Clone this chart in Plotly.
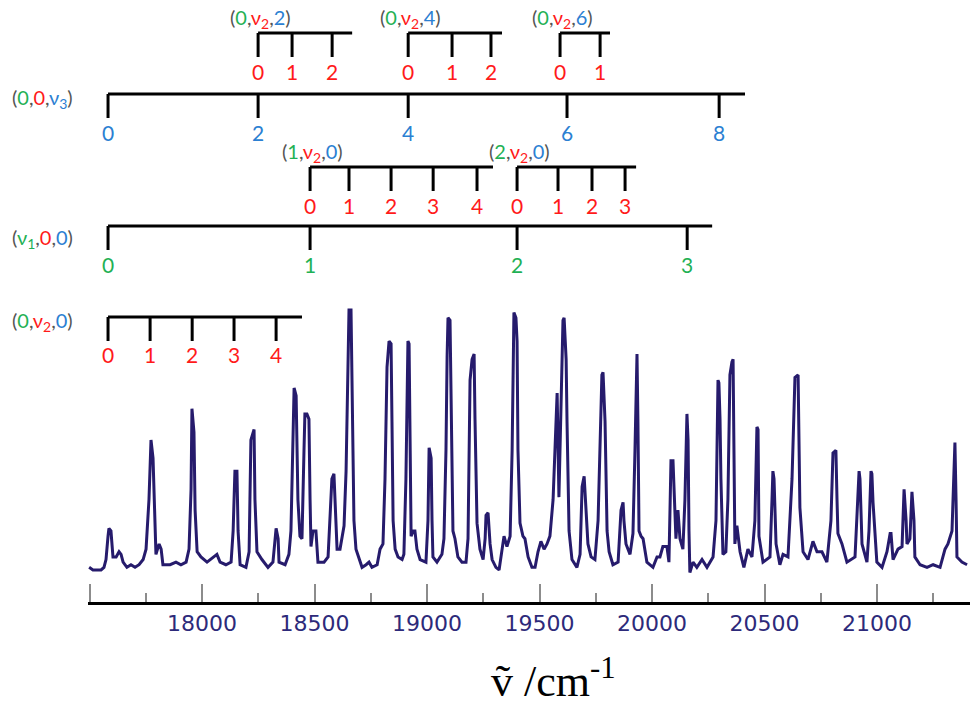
import plotly.graph_objects as go

# ---------------------------------------------------------------------------
# Spectrum: wavenumber (cm^-1) and relative intensity (% of strongest band)
# ---------------------------------------------------------------------------
wavenumber = [
    17498, 17515, 17533, 17551, 17564, 17573, 17582, 17586, 17595, 17604,
    17618, 17631, 17640, 17649, 17666, 17684, 17702, 17720, 17738, 17751,
    17764, 17773, 17782, 17791, 17795, 17809, 17818, 17826, 17858, 17884,
    17906, 17929, 17942, 17951, 17955, 17964, 17969, 17978, 17995, 18022,
    18053, 18066, 18080, 18106, 18129, 18138, 18146, 18155, 18160, 18169,
    18195, 18209, 18217, 18231, 18235, 18244, 18266, 18293, 18315, 18324,
    18329, 18338, 18342, 18369, 18386, 18395, 18404, 18409, 18418, 18426,
    18435, 18444, 18453, 18457, 18466, 18475, 18480, 18484, 18493, 18506,
    18515, 18542, 18560, 18573, 18577, 18586, 18595, 18600, 18613, 18631,
    18640, 18649, 18653, 18662, 18666, 18675, 18684, 18698, 18711, 18729,
    18742, 18755, 18778, 18791, 18804, 18813, 18822, 18831, 18840, 18844,
    18849, 18858, 18871, 18889, 18897, 18906, 18911, 18915, 18920, 18924,
    18929, 18938, 18946, 18955, 18969, 18995, 19004, 19009, 19018, 19022,
    19026, 19044, 19066, 19075, 19084, 19089, 19093, 19102, 19106, 19115,
    19124, 19137, 19155, 19173, 19182, 19191, 19200, 19209, 19213, 19222,
    19235, 19249, 19258, 19262, 19271, 19280, 19289, 19306, 19320, 19333,
    19342, 19355, 19369, 19378, 19386, 19395, 19400, 19404, 19413, 19426,
    19435, 19449, 19466, 19480, 19493, 19506, 19520, 19533, 19546, 19560,
    19569, 19578, 19586, 19595, 19604, 19609, 19618, 19622, 19631, 19644,
    19666, 19680, 19689, 19698, 19706, 19715, 19729, 19746, 19760, 19769,
    19777, 19782, 19791, 19800, 19809, 19826, 19849, 19862, 19871, 19875,
    19884, 19902, 19915, 19924, 19929, 19933, 19937, 19942, 19951, 19960,
    19977, 20004, 20022, 20035, 20048, 20066, 20075, 20080, 20084, 20093,
    20102, 20106, 20115, 20124, 20137, 20146, 20155, 20160, 20164, 20168,
    20182, 20199, 20222, 20244, 20271, 20284, 20293, 20297, 20302, 20306,
    20315, 20328, 20337, 20346, 20355, 20360, 20368, 20377, 20391, 20408,
    20426, 20444, 20457, 20466, 20471, 20475, 20493, 20524, 20533, 20537,
    20542, 20551, 20568, 20582, 20604, 20622, 20635, 20649, 20657, 20671,
    20693, 20715, 20733, 20755, 20777, 20795, 20804, 20817, 20822, 20826,
    20844, 20866, 20902, 20911, 20920, 20924, 20933, 20955, 20964, 20973,
    20977, 20982, 20991, 20999, 21022, 21044, 21058, 21062, 21071, 21093,
    21111, 21115, 21120, 21129, 21133, 21146, 21155, 21164, 21168, 21191,
    21222, 21249, 21280, 21302, 21315, 21333, 21342, 21346, 21351, 21355,
    21377, 21400,
]
intensity = [
    1, 0, 0, 0, 1, 4, 13, 16, 15, 5,
    5, 7, 6, 3, 1, 2, 1, 2, 4, 8,
    27, 50, 43, 15, 6, 10, 8, 2, 2, 3,
    2, 3, 8, 31, 62, 53, 23, 7, 5, 3,
    5, 6, 3, 2, 3, 15, 38, 38, 15, 2,
    1, 7, 50, 54, 27, 7, 4, 1, 3, 12,
    16, 12, 3, 2, 6, 15, 58, 70, 67, 27,
    13, 12, 46, 60, 60, 58, 27, 9, 15, 15,
    3, 3, 5, 27, 35, 37, 19, 8, 8, 17,
    38, 92, 100, 100, 73, 19, 8, 4, 1, 2,
    3, 1, 2, 8, 10, 35, 78, 88, 87, 57,
    19, 8, 5, 4, 6, 35, 81, 88, 87, 38,
    13, 15, 15, 8, 4, 3, 19, 47, 43, 19,
    5, 3, 6, 12, 46, 82, 97, 96, 65, 15,
    12, 5, 3, 3, 12, 73, 81, 83, 58, 18,
    8, 4, 12, 21, 22, 10, 4, 1, 0, 7,
    13, 9, 13, 46, 99, 97, 88, 46, 18, 13,
    12, 5, 1, 1, 7, 11, 8, 10, 13, 27,
    50, 68, 28, 65, 96, 97, 81, 57, 15, 4,
    1, 6, 32, 36, 23, 10, 5, 4, 19, 50,
    75, 76, 57, 15, 7, 2, 3, 23, 26, 19,
    10, 6, 14, 46, 73, 83, 58, 15, 13, 12,
    3, 1, 5, 5, 9, 9, 3, 19, 42, 42,
    19, 12, 23, 12, 8, 27, 60, 50, 15, -1,
    3, 1, 4, 1, 5, 19, 73, 72, 58, 35,
    6, 7, 27, 75, 80, 81, 10, 17, 7, 1,
    8, 5, 19, 55, 54, 13, 3, 5, 27, 38,
    35, 10, 2, 6, 5, 35, 74, 75, 24, 7,
    4, 11, 7, 7, 3, 19, 45, 46, 27, 14,
    10, 3, 5, 19, 38, 35, 10, 3, 15, 38,
    37, 26, 12, 3, 1, 7, 14, 14, 4, 8,
    9, 19, 31, 19, 10, 12, 30, 19, 5, 2,
    1, 2, 1, 8, 10, 15, 38, 49, 27, 5,
    3, 2,
]

# ---------------------------------------------------------------------------
# Vibrational progressions: band origins (cm^-1) and quantum numbers
# ---------------------------------------------------------------------------
v2_000_pos = [17582, 17769, 17956, 18142, 18329]   # (0,v2,0)
v2_000_num = [0, 1, 2, 3, 4]
v2_000_end = 18444

v1_pos = [17582, 18480, 19400, 20156]              # (v1,0,0)
v1_num = [0, 1, 2, 3]
v1_end = 20267

v2_100_pos = [18480, 18653, 18840, 19027, 19222]   # (1,v2,0)
v2_100_num = [0, 1, 2, 3, 4]
v2_100_end = 19293

v2_200_pos = [19400, 19582, 19733, 19880]          # (2,v2,0)
v2_200_num = [0, 1, 2, 3]
v2_200_end = 19929

v3_pos = [17582, 18249, 18916, 19622, 20298]       # (0,0,v3)
v3_num = [0, 2, 4, 6, 8]
v3_end = 20413

v2_002_pos = [18249, 18400, 18578]                 # (0,v2,2)
v2_002_num = [0, 1, 2]
v2_002_end = 18667

v2_004_pos = [18916, 19111, 19284]                 # (0,v2,4)
v2_004_num = [0, 1, 2]
v2_004_end = 19333

v2_006_pos = [19591, 19769]                        # (0,v2,6)
v2_006_num = [0, 1]
v2_006_end = 19813

x_tick_values = [17500, 18000, 18500, 19000, 19500, 20000, 20500, 21000]
x_tick_text = [" ", "18000", "18500", "19000", "19500", "20000", "20500", "21000"]
x_minor_values = [17750, 18250, 18750, 19250, 19750, 20250, 20750, 21250]

# ---------------------------------------------------------------------------
# Styling
# ---------------------------------------------------------------------------
GREEN = "#1fb155"
RED = "#ff1a1a"
BLUE = "#2b80d2"
GRAY = "#555555"
INK = "#261b6c"
LABEL_FONT = "Lato"

# vertical placement of the ladder bars (paper fraction)
ROW_TOP = 0.9534
ROW_V3 = 0.8672
ROW_MID = 0.7641
ROW_V1 = 0.6808
ROW_V2 = 0.5523
TICK_LEN = 0.0339
NUM_GAP = 0.0537
TITLE_GAP = 0.0198
LEFT_X = -0.052


def span(text, color):
    return f'<span style="color:{color}">{text}</span>'


def state(parts):
    body = span(",", GRAY).join(span(t, c) for t, c in parts)
    return span("(", GRAY) + body + span(")", GRAY)


NU1 = "ν<sub>1</sub>"
NU2 = "ν<sub>2</sub>"
NU3 = "ν<sub>3</sub>"

fig = go.Figure()

fig.add_trace(go.Scatter(
    x=wavenumber, y=intensity, mode="lines",
    line=dict(color=INK, width=3),
    hoverinfo="skip", showlegend=False,
))

shapes = []
annotations = []


def ladder(pos, nums, end, row, color, title=None, left=None):
    shapes.append(dict(type="line", xref="x", yref="paper",
                       x0=pos[0], x1=end, y0=row, y1=row,
                       line=dict(color="black", width=3)))
    for p, n in zip(pos, nums):
        shapes.append(dict(type="line", xref="x", yref="paper",
                           x0=p, x1=p, y0=row, y1=row - TICK_LEN,
                           line=dict(color="black", width=3)))
        annotations.append(dict(x=p, y=row - NUM_GAP, xref="x", yref="paper",
                                text=str(n), showarrow=False,
                                xanchor="center", yanchor="middle",
                                font=dict(family=LABEL_FONT, size=21, color=color)))
    if title is not None:
        annotations.append(dict(x=pos[0], y=row + TITLE_GAP, xref="x", yref="paper",
                                text=title, showarrow=False,
                                xanchor="center", yanchor="middle", xshift=2,
                                font=dict(family=LABEL_FONT, size=20, color=GRAY)))
    if left is not None:
        text, ly = left
        annotations.append(dict(x=LEFT_X, y=ly, xref="paper", yref="paper",
                                text=text, showarrow=False,
                                xanchor="center", yanchor="middle",
                                font=dict(family=LABEL_FONT, size=20, color=GRAY)))


ladder(v2_002_pos, v2_002_num, v2_002_end, ROW_TOP, RED,
       title=state([("0", GREEN), (NU2, RED), ("2", BLUE)]))
ladder(v2_004_pos, v2_004_num, v2_004_end, ROW_TOP, RED,
       title=state([("0", GREEN), (NU2, RED), ("4", BLUE)]))
ladder(v2_006_pos, v2_006_num, v2_006_end, ROW_TOP, RED,
       title=state([("0", GREEN), (NU2, RED), ("6", BLUE)]))
ladder(v3_pos, v3_num, v3_end, ROW_V3, BLUE,
       left=(state([("0", GREEN), ("0", RED), (NU3, BLUE)]), ROW_V3 - 0.006))
ladder(v2_100_pos, v2_100_num, v2_100_end, ROW_MID, RED,
       title=state([("1", GREEN), (NU2, RED), ("0", BLUE)]))
ladder(v2_200_pos, v2_200_num, v2_200_end, ROW_MID, RED,
       title=state([("2", GREEN), (NU2, RED), ("0", BLUE)]))
ladder(v1_pos, v1_num, v1_end, ROW_V1, GREEN,
       left=(state([(NU1, GREEN), ("0", RED), ("0", BLUE)]), ROW_V1 - 0.017))
ladder(v2_000_pos, v2_000_num, v2_000_end, ROW_V2, RED,
       left=(state([("0", GREEN), (NU2, RED), ("0", BLUE)]), ROW_V2 - 0.006))

# axis title, centred under the labelled part of the scale
annotations.append(dict(
    x=0.528, y=0.0, xref="paper", yref="paper",
    text="ṽ /cm<sup>-1</sup>", showarrow=False,
    xanchor="center", yanchor="bottom",
    font=dict(family="Liberation Serif", size=44, color="black"),
))

fig.update_layout(
    width=970, height=708,
    margin=dict(l=88, r=0, t=0, b=0),
    paper_bgcolor="white", plot_bgcolor="white",
    showlegend=False,
    shapes=shapes,
    annotations=annotations,
    xaxis=dict(
        range=[17493, 21413],
        anchor="free", position=0.1483,
        showline=True, linecolor="black", linewidth=3,
        showgrid=False, zeroline=False,
        ticks="inside", ticklen=18, tickwidth=1.5, tickcolor="#8c8c8c",
        tickmode="array", tickvals=x_tick_values, ticktext=x_tick_text,
        tickfont=dict(family="DejaVu Sans", size=22, color="#2d2a7a"),
        minor=dict(tickmode="array", tickvals=x_minor_values, ticks="inside",
                   ticklen=9, tickwidth=1.5, tickcolor="#8c8c8c"),
    ),
    yaxis=dict(range=[-53.1, 219.2], visible=False, domain=[0, 1]),
)

fig.write_html("out.html")
